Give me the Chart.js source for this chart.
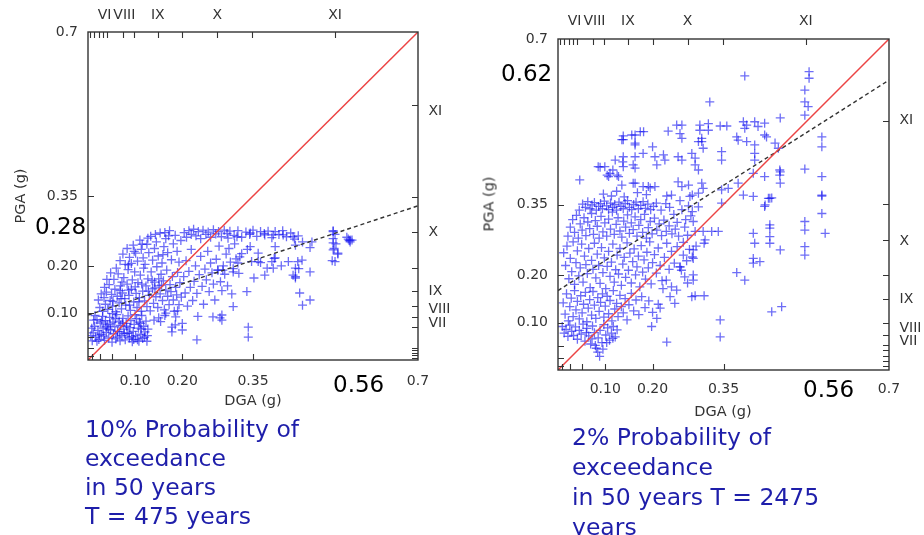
<!DOCTYPE html>
<html><head><meta charset="utf-8">
<script src="https://cdn.jsdelivr.net/npm/chart.js@4.4.1/dist/chart.umd.min.js"></script>
<style>
html,body{margin:0;padding:0;background:#fff;width:924px;height:535px;overflow:hidden;position:relative;font-family:"DejaVu Sans",sans-serif}
canvas{position:absolute;top:0}
#c1{left:0}
#c2{left:462px}
.note{position:absolute;font-size:23px;line-height:23px;color:#000;white-space:nowrap}
.cap{position:absolute;font-size:23.5px;color:#1e1eaa;white-space:nowrap}
.ttl{position:absolute;font-size:14.5px;line-height:15px;color:#333;white-space:nowrap}
</style></head><body>
<canvas id="c1" width="462" height="535"></canvas>
<canvas id="c2" width="462" height="535"></canvas>

<div class="ttl" style="left:253px;top:393px;transform:translateX(-50%)">DGA (g)</div>
<div class="ttl" style="left:20px;top:196px;transform:translate(-50%,-50%) rotate(-90deg)">PGA (g)</div>
<div class="ttl" style="left:723px;top:404px;transform:translateX(-50%)">DGA (g)</div>
<div class="ttl" style="left:489px;top:204px;transform:translate(-50%,-50%) rotate(-90deg)">PGA (g)</div>

<div class="note" style="left:35px;top:215px">0.28</div>
<div class="note" style="left:333px;top:373px">0.56</div>
<div class="note" style="left:501px;top:62px">0.62</div>
<div class="note" style="left:803px;top:378px">0.56</div>

<div class="cap" style="left:85px;top:415px;line-height:29px">10% Probability of<br>exceedance<br>in 50 years<br>T = 475 years</div>
<div class="cap" style="left:572px;top:422px;line-height:30px">2% Probability of<br>exceedance<br>in 50 years T = 2475<br>years</div>

<script>
// ---------- axis ticks / labels ----------
const axisTickVals = [0.1, 0.2, 0.35, 0.7];
const axisTickLabels = ['0.10', '0.20', '0.35', '0.7'];
const minorTicks = [0.008, 0.025, 0.05, 0.1, 0.2, 0.35];
const topTicks = [0.004, 0.013, 0.023, 0.032, 0.041, 0.074, 0.098, 0.148, 0.2, 0.274, 0.348, 0.524];
const topLabelText = ['VI', 'VIII', 'IX', 'X', 'XI'];
const topLabelVals = [0.035, 0.077, 0.148, 0.274, 0.524];
const rightTicksA = [0.004, 0.01, 0.015, 0.021, 0.026, 0.07, 0.092, 0.116, 0.147, 0.196, 0.273, 0.348, 0.545];
const rightLabelTextA = ['XI', 'X', 'IX', 'VIII', 'VII'];
const rightLabelValsA = [0.53, 0.273, 0.147, 0.108, 0.078];
const rightTicksB = [0.008, 0.018, 0.03, 0.042, 0.053, 0.074, 0.099, 0.15, 0.2, 0.275, 0.351, 0.527];
const rightLabelTextB = ['XI', 'X', 'IX', 'VIII', 'VII'];
const rightLabelValsB = [0.527, 0.273, 0.15, 0.089, 0.061];

// ---------- lines ----------
const equalLine = [[0, 0], [0.7, 0.7]];
const fitLine475 = [[0, 0.096], [0.7, 0.329]];
const fitLine2475 = [[0, 0.168], [0.7, 0.613]];

// ---------- scatter data: [DGA, PGA] ----------
const pts475 = [
[.009,.041],[.011,.058],[.014,.072],[.016,.049],[.019,.086],[.021,.063],[.023,.044],[.026,.079],[.028,.055],[.031,.093],[.032,.068],[.035,.042],[.037,.084],[.039,.059],[.041,.075],[.044,.047],[.046,.091],[.048,.064],[.051,.038],[.053,.081],[.054,.056],[.057,.071],[.059,.045],[.061,.097],[.063,.061],[.066,.083],[.068,.041],[.069,.074],[.072,.052],[.074,.089],[.076,.066],[.079,.043],[.081,.078],[.083,.057],[.085,.094],[.088,.047],[.089,.069],[.091,.084],[.094,.039],[.096,.061],[.098,.076],[.101,.052],[.103,.088],[.105,.043],[.107,.068],[.109,.081],[.112,.055],[.114,.095],[.116,.046],[.118,.072],[.121,.06],[.123,.083],[.125,.04],[.127,.066],[.019,.04],[.033,.051],[.047,.077],[.062,.049],[.077,.056],[.093,.05],[.108,.04],[.12,.049],[.015,.095],[.029,.083],[.043,.066],[.058,.088],[.073,.079],[.087,.058],[.1,.097],[.113,.066],[.024,.053],[.038,.071],[.052,.099],[.067,.06],[.082,.072],[.097,.044],[.111,.078],[.126,.052],[.006,.052],[.008,.068],[.012,.085],
[.022,.128],[.025,.112],[.028,.141],[.031,.104],[.034,.133],[.037,.119],[.039,.145],[.042,.108],[.045,.161],[.047,.127],[.05,.14],[.052,.115],[.055,.172],[.057,.151],[.059,.103],[.062,.136],[.064,.184],[.066,.122],[.069,.158],[.071,.109],[.073,.143],[.076,.176],[.078,.131],[.08,.117],[.083,.162],[.085,.193],[.087,.138],[.09,.106],[.092,.151],[.094,.171],[.097,.124],[.099,.188],[.102,.142],[.104,.112],[.106,.165],[.109,.133],[.111,.181],[.113,.104],[.116,.147],[.118,.196],[.12,.126],[.123,.158],[.125,.114],[.127,.173],[.13,.138],[.132,.105],[.134,.188],[.137,.152],[.139,.121],[.141,.166],[.144,.135],[.146,.199],[.148,.112],[.151,.158],[.153,.141],[.155,.183],[.158,.127],[.16,.169],[.162,.107],[.165,.149],[.167,.192],[.169,.136],[.172,.118],[.174,.161],[.176,.146],[.179,.178],[.181,.128],[.183,.104],[.186,.155],[.188,.139],[.19,.187],[.193,.118],[.195,.165],[.198,.134],[.04,.172],[.048,.186],[.06,.196],[.072,.166],[.086,.149],[.1,.156],[.114,.162],[.128,.147],[.142,.154],[.156,.16],[.07,.131],[.088,.117],[.108,.124],[.136,.17],[.15,.173],[.035,.155],[.053,.125],[.068,.148],
[.068,.212],[.074,.226],[.079,.204],[.083,.238],[.088,.219],[.092,.206],[.096,.245],[.101,.228],[.105,.211],[.11,.256],[.113,.236],[.117,.218],[.121,.204],[.125,.247],[.129,.229],[.133,.264],[.137,.213],[.141,.238],[.145,.252],[.149,.222],[.153,.271],[.157,.207],[.161,.242],[.165,.259],[.169,.229],[.173,.276],[.177,.214],[.181,.248],[.185,.266],[.189,.232],[.193,.209],[.197,.255],[.163,.272],[.171,.265],[.143,.268],[.127,.26],[.098,.232],[.086,.203],[.115,.247],[.159,.225],
[.203,.178],[.206,.143],[.208,.212],[.211,.115],[.214,.189],[.217,.155],[.219,.236],[.222,.127],[.225,.168],[.228,.201],[.231,.142],[.233,.093],[.236,.182],[.239,.221],[.242,.157],[.245,.119],[.248,.194],[.251,.171],[.254,.232],[.257,.146],[.26,.207],[.263,.186],[.266,.162],[.269,.128],[.272,.215],[.275,.192],[.278,.243],[.281,.167],[.284,.148],[.287,.201],[.29,.183],[.293,.226],[.296,.158],[.299,.238],[.302,.209],[.305,.141],[.308,.195],[.311,.248],[.314,.216],[.32,.185],[.326,.227],[.338,.236],[.352,.175],[.366,.208],[.38,.196],[.395,.217],[.41,.201],[.425,.21],[.447,.195],
[.204,.272],[.209,.262],[.214,.276],[.219,.268],[.224,.279],[.229,.265],[.234,.274],[.239,.259],[.244,.277],[.25,.268],[.255,.273],[.26,.262],[.266,.278],[.271,.269],[.277,.274],[.283,.263],[.289,.277],[.295,.27],[.301,.275],[.31,.266],[.318,.276],[.326,.262],[.335,.273],[.343,.268],[.35,.277],[.358,.264],[.366,.274],[.374,.27],[.382,.275],[.39,.261],[.397,.274],[.405,.268],[.413,.276],[.421,.263],[.43,.271],[.438,.258],[.446,.265],[.455,.252],[.52,.276],[.524,.268],[.52,.259],[.526,.248],[.522,.238],[.53,.226],[.518,.212],[.552,.258],[.556,.252],[.56,.256],[.549,.262],[.554,.255],
[.449,.143],[.471,.128],[.455,.117],[.34,.07],[.34,.049],[.231,.043],[.265,.092],[.28,.09],[.178,.07],[.178,.06],[.2,.078],[.2,.064],[.154,.082],[.163,.095],[.186,.092],[.15,.09],[.165,.1],[.185,.075],[.14,.085],[.19,.105],
[.284,.096],[.284,.085],[.308,.114],[.337,.146],[.375,.181],[.435,.181],[.44,.175],[.445,.21],[.454,.213],[.471,.188],[.52,.274],[.52,.25],[.52,.235],[.524,.21],[.556,.256],[.53,.228],[.414,.267],[.393,.267],[.375,.267],[.344,.271],[.344,.242],[.397,.242],[.397,.218],[.435,.263],[.44,.245],[.475,.252],[.471,.24],[.361,.228],[.361,.21],[.39,.21],[.393,.196],[.44,.196],[.44,.178],[.347,.21],[.322,.22],[.318,.207],[.276,.192],[.286,.192],[.308,.188],[.297,.26],[.316,.263]
];

const pts2475 = [
[.045,.338],[.052,.351],[.058,.344],[.063,.356],[.068,.341],[.072,.349],[.077,.354],[.081,.338],[.086,.346],[.09,.352],[.094,.341],[.098,.357],[.103,.347],[.107,.339],[.111,.353],[.116,.344],[.12,.35],[.124,.338],[.129,.355],[.133,.346],[.138,.341],[.142,.352],[.147,.358],[.151,.344],[.156,.339],[.16,.35],[.165,.355],[.17,.341],[.175,.348],[.18,.356],[.185,.342],[.19,.351],[.196,.339],[.202,.346],[.208,.353],
[.096,.372],[.113,.368],[.124,.378],[.14,.366],[.168,.375],[.187,.371],[.23,.368],
[.021,.283],[.026,.302],[.031,.318],[.035,.291],[.039,.327],[.043,.279],[.047,.309],[.051,.296],[.055,.322],[.059,.284],[.063,.313],[.067,.299],[.071,.331],[.075,.287],[.079,.316],[.083,.304],[.087,.279],[.091,.325],[.095,.292],[.099,.311],[.103,.283],[.107,.319],[.111,.298],[.115,.334],[.119,.287],[.123,.308],[.127,.322],[.131,.294],[.135,.281],[.139,.315],[.143,.302],[.147,.328],[.151,.289],[.155,.311],[.159,.297],[.163,.324],[.167,.283],[.171,.306],[.175,.318],[.179,.291],[.183,.329],[.187,.279],[.191,.301],[.195,.314],[.199,.288],[.204,.321],[.209,.296],[.214,.309],[.219,.284],[.224,.317],[.229,.293],[.235,.305],[.241,.288],[.248,.298],[.255,.283],
[.262,.339],[.27,.318],[.276,.347],[.268,.302],[.281,.326],[.258,.358],[.245,.329],[.236,.344],[.252,.312],[.274,.285],[.265,.27],[.228,.352],[.218,.338],
[.012,.248],[.016,.221],[.019,.262],[.023,.193],[.026,.236],[.029,.208],[.032,.271],[.035,.181],[.038,.227],[.041,.252],[.044,.199],[.047,.216],[.05,.266],[.053,.186],[.056,.241],[.059,.223],[.062,.204],[.065,.257],[.068,.174],[.071,.232],[.074,.213],[.077,.268],[.08,.195],[.083,.245],[.086,.221],[.089,.183],[.092,.259],[.095,.206],[.098,.237],[.101,.172],[.104,.219],[.107,.251],[.11,.198],[.113,.228],[.116,.266],[.119,.186],[.122,.212],[.125,.243],[.128,.203],[.131,.257],[.134,.179],[.137,.224],[.14,.238],[.143,.196],[.146,.269],[.149,.211],[.152,.247],[.155,.184],[.158,.229],[.161,.256],[.164,.201],[.167,.218],[.17,.241],[.173,.176],[.176,.263],[.179,.207],[.182,.233],[.185,.192],[.188,.249],[.191,.216],[.194,.271],[.197,.182],[.2,.227],[.204,.244],[.208,.205],[.212,.258],[.216,.221],[.22,.189],[.225,.238],[.23,.268],[.235,.213],[.24,.251],[.246,.226],[.252,.261],[.258,.218],[.265,.243],[.272,.231],[.278,.255],[.284,.239],[.292,.262],
[.011,.142],[.015,.118],[.018,.161],[.022,.104],[.025,.134],[.028,.152],[.032,.113],[.035,.168],[.038,.127],[.041,.145],[.045,.108],[.048,.157],[.051,.121],[.054,.139],[.058,.164],[.061,.102],[.064,.131],[.067,.149],[.071,.116],[.074,.166],[.077,.137],[.08,.109],[.084,.153],[.087,.124],[.09,.143],[.094,.161],[.097,.112],[.1,.135],[.104,.156],[.107,.119],[.11,.147],[.114,.104],[.117,.168],[.12,.129],[.124,.141],[.127,.113],[.131,.158],[.134,.134],[.138,.121],[.142,.151],[.146,.106],[.15,.138],[.155,.162],[.16,.125],[.165,.148],[.171,.117],[.177,.155],[.184,.132],[.192,.146],[.2,.122],[.212,.139],
[.009,.092],[.013,.078],[.017,.086],[.021,.071],[.025,.095],[.029,.082],[.033,.073],[.037,.091],[.041,.065],[.045,.084],[.049,.076],[.053,.097],[.057,.061],[.061,.088],[.065,.072],[.069,.055],[.073,.093],[.077,.079],[.081,.046],[.085,.068],[.089,.084],[.093,.058],[.097,.096],[.101,.074],[.105,.089],[.109,.063],[.113,.078],[.117,.092],[.121,.07],[.125,.085],[.084,.038],[.088,.029],[.079,.052],[.095,.044],[.072,.066],[.103,.058],[.06,.079],[.116,.067],
[.198,.092],[.23,.059],[.216,.131],[.237,.155],[.251,.169],[.24,.176],[.258,.218],[.261,.211],[.283,.155],[.286,.201],[.286,.19],[.229,.19],[.222,.172],[.268,.197],[.274,.184],[.247,.141],[.209,.109],
[.395,.622],[.531,.631],[.531,.617],[.522,.592],[.522,.567],[.529,.557],[.522,.539],[.321,.567],[.47,.533],[.558,.493],[.558,.472],[.558,.409],[.558,.368],[.522,.425],
[.138,.495],[.138,.487],[.156,.497],[.163,.497],[.174,.504],[.181,.504],[.163,.48],[.233,.505],[.251,.518],[.262,.518],[.258,.5],[.262,.49],[.3,.518],[.3,.507],[.318,.521],[.318,.507],[.304,.49],[.297,.483],[.343,.516],[.357,.516],[.392,.525],[.399,.518],[.395,.511],[.416,.525],[.423,.515],[.437,.522],[.437,.497],[.378,.493],[.381,.486],[.399,.483],[.416,.476],
[.135,.487],[.163,.476],[.18,.458],[.121,.444],[.138,.451],[.099,.43],[.11,.416],[.138,.43],[.163,.427],[.163,.451],[.2,.472],[.205,.451],[.223,.455],[.209,.434],[.226,.444],[.254,.451],[.262,.444],[.283,.458],[.29,.448],[.29,.434],[.297,.423],[.307,.469],[.304,.483],[.346,.462],[.346,.444],[.416,.458],[.416,.444],[.413,.416],[.437,.409],[.469,.423],[.469,.412],[.441,.493],[.459,.48],[.466,.469],
[.046,.402],[.085,.43],[.107,.409],[.128,.409],[.135,.391],[.159,.395],[.18,.388],[.191,.388],[.205,.388],[.24,.37],[.254,.398],[.262,.388],[.276,.391],[.279,.367],[.304,.395],[.307,.384],[.297,.374],[.346,.381],[.36,.384],[.381,.395],[.445,.363],[.437,.346],
[.089,.429],[.104,.412],[.125,.412],[.116,.423],[.137,.44],[.159,.434],[.163,.395],[.195,.385],
[.392,.37],[.413,.367],[.448,.363],[.438,.349],[.558,.37],[.558,.331],[.565,.289],[.522,.314],[.522,.296],[.522,.261],[.522,.243],[.448,.307],[.448,.3],[.448,.282],[.448,.268],[.413,.289],[.416,.268],[.47,.254],[.413,.236],[.413,.226],[.427,.229],[.378,.206],[.395,.19],[.452,.123],[.473,.134],[.343,.106],[.343,.07],[.29,.157],[.309,.157],[.286,.254],[.286,.236],[.309,.268],[.311,.275],[.307,.293],[.325,.293],[.339,.293],[.346,.353],[.297,.345],[.284,.37],[.284,.335],[.286,.314],[.29,.293],
[.47,.395],[.47,.419],[.452,.364]
];

// ---------- rendering ----------
Chart.defaults.font.family = '"DejaVu Sans", sans-serif';
const toXY = arr => arr.map(p => ({x: p[0], y: p[1]}));

const framePlugin = {
  id: 'frame',
  afterDraw(chart, args, o) {
    const ctx = chart.ctx, a = chart.chartArea, xs = chart.scales.x, ys = chart.scales.y;
    const L = 6;
    ctx.save();
    ctx.strokeStyle = '#333';
    ctx.lineWidth = 1.1;
    ctx.beginPath();
    minorTicks.forEach(v => { const p = Math.round(xs.getPixelForValue(v)) + 0.5; ctx.moveTo(p, a.bottom); ctx.lineTo(p, a.bottom - L); });
    minorTicks.forEach(v => { const p = Math.round(ys.getPixelForValue(v)) + 0.5; ctx.moveTo(a.left, p); ctx.lineTo(a.left + L, p); });
    topTicks.forEach(v => { const p = Math.round(xs.getPixelForValue(v)) + 0.5; ctx.moveTo(p, a.top); ctx.lineTo(p, a.top + L); });
    o.rightTicks.forEach(v => { const p = Math.round(ys.getPixelForValue(v)) + 0.5; ctx.moveTo(a.right, p); ctx.lineTo(a.right - L, p); });
    ctx.stroke();
    ctx.lineWidth = 1.4;
    ctx.strokeRect(a.left, a.top, a.right - a.left, a.bottom - a.top);
    ctx.fillStyle = '#333';
    ctx.font = '14px "DejaVu Sans"';
    ctx.textAlign = 'center';
    ctx.textBaseline = 'middle';
    topLabelText.forEach((t, i) => ctx.fillText(t, xs.getPixelForValue(topLabelVals[i]), a.top - o.topGap));
    ctx.textAlign = 'left';
    o.rightText.forEach((t, i) => ctx.fillText(t, a.right + 10.5, ys.getPixelForValue(o.rightVals[i])));
    ctx.restore();
  }
};

function makeChart(id, pts, fit, area, cfg) {
  const W = 462, H = 535;
  new Chart(document.getElementById(id), {
    type: 'scatter',
    data: {
      datasets: [
        {data: toXY(equalLine), showLine: true, borderColor: '#ec4444', borderWidth: 1.5, pointRadius: 0, order: 0},
        {data: toXY(fit), showLine: true, borderColor: '#333', borderWidth: 1.4, borderDash: [4, 3], pointRadius: 0, order: 0},
        {data: toXY(pts), pointStyle: 'cross', pointRadius: 4.5, borderWidth: 1.3, borderColor: 'rgba(20,20,240,0.62)', backgroundColor: 'rgba(20,20,240,0.62)', order: 1}
      ]
    },
    options: {
      responsive: false, animation: false, devicePixelRatio: 1,
      layout: {padding: {left: 0, top: area.top, right: W - area.right, bottom: 0}},
      plugins: {legend: {display: false}, tooltip: {enabled: false}, frame: cfg},
      scales: {
        x: {
          type: 'linear', position: 'bottom', min: 0, max: 0.7,
          afterBuildTicks: s => { s.ticks = axisTickVals.map(v => ({value: v})); },
          afterFit: s => { s.height = H - area.bottom; },
          grid: {display: false, drawTicks: false}, border: {display: false},
          ticks: {autoSkip: false, maxRotation: 0, padding: cfg.padX, color: '#333', font: {size: 14},
                  callback: v => axisTickLabels[axisTickVals.indexOf(v)]}
        },
        y: {
          type: 'linear', position: 'left', min: 0, max: 0.7,
          afterBuildTicks: s => { s.ticks = axisTickVals.map(v => ({value: v})); },
          afterFit: s => { s.width = area.left; },
          grid: {display: false, drawTicks: false}, border: {display: false},
          ticks: {autoSkip: false, padding: 10, color: '#333', font: {size: 14},
                  callback: v => axisTickLabels[axisTickVals.indexOf(v)]}
        }
      }
    },
    plugins: [framePlugin]
  });
}

makeChart('c1', pts475, fitLine475, {left: 88, right: 418, top: 32, bottom: 360},
  {rightTicks: rightTicksA, rightText: rightLabelTextA, rightVals: rightLabelValsA, topGap: 16.5, padX: 13});
makeChart('c2', pts2475, fitLine2475, {left: 96, right: 427, top: 39, bottom: 370},
  {rightTicks: rightTicksB, rightText: rightLabelTextB, rightVals: rightLabelValsB, topGap: 18, padX: 11});
</script>
</body></html>
